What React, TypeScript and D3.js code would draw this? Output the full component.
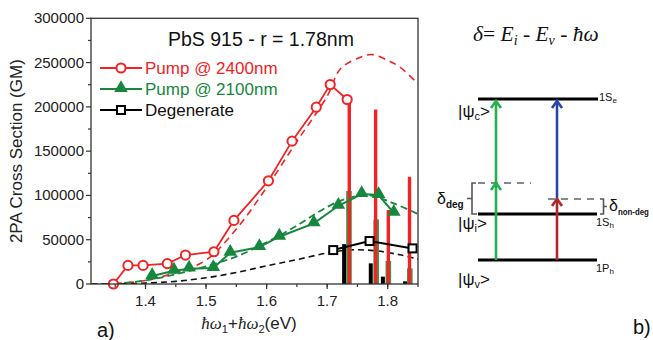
import React from "react";
import * as d3 from "d3";

// measured 2PA spectra (eV, GM)
const pump2400 = [
  { x: 1.347, y: 0 },
  { x: 1.371, y: 21000 },
  { x: 1.396, y: 21000 },
  { x: 1.436, y: 23000 },
  { x: 1.466, y: 32700 },
  { x: 1.513, y: 36400 },
  { x: 1.546, y: 71800 },
  { x: 1.603, y: 116500 },
  { x: 1.642, y: 161300 },
  { x: 1.682, y: 199600 },
  { x: 1.705, y: 225200 },
  { x: 1.733, y: 208300 },
];

const pump2100 = [
  { x: 1.411, y: 9000 },
  { x: 1.447, y: 15000 },
  { x: 1.472, y: 17300 },
  { x: 1.512, y: 18000 },
  { x: 1.54, y: 35300 },
  { x: 1.588, y: 41700 },
  { x: 1.621, y: 53400 },
  { x: 1.678, y: 68400 },
  { x: 1.7185, y: 88300 },
  { x: 1.757, y: 101500 },
  { x: 1.785, y: 100400 },
  { x: 1.81, y: 80400 },
];

const degenerate = [
  { x: 1.71, y: 38300 },
  { x: 1.77, y: 48500 },
  { x: 1.841, y: 40200 },
];

// model curves (dashed)
const fit2400 = [
  { x: 1.31, y: 0 },
  { x: 1.35, y: 500 },
  { x: 1.4, y: 4000 },
  { x: 1.45, y: 13000 },
  { x: 1.5, y: 27000 },
  { x: 1.55, y: 62000 },
  { x: 1.6, y: 109000 },
  { x: 1.65, y: 161000 },
  { x: 1.7, y: 212000 },
  { x: 1.722, y: 243000 },
  { x: 1.755, y: 256000 },
  { x: 1.775, y: 259000 },
  { x: 1.8, y: 252500 },
  { x: 1.82, y: 245000 },
  { x: 1.85, y: 226000 },
];

const fit2100 = [
  { x: 1.31, y: 0 },
  { x: 1.35, y: 500 },
  { x: 1.4, y: 4000 },
  { x: 1.45, y: 11000 },
  { x: 1.5, y: 20000 },
  { x: 1.55, y: 31000 },
  { x: 1.6, y: 47000 },
  { x: 1.65, y: 66000 },
  { x: 1.7, y: 87000 },
  { x: 1.73, y: 96000 },
  { x: 1.766, y: 100500 },
  { x: 1.81, y: 91000 },
  { x: 1.85, y: 79000 },
];

const fitDegenerate = [
  { x: 1.31, y: 0 },
  { x: 1.35, y: 0 },
  { x: 1.4, y: 1000 },
  { x: 1.45, y: 3000 },
  { x: 1.5, y: 7000 },
  { x: 1.55, y: 13000 },
  { x: 1.6, y: 20500 },
  { x: 1.65, y: 27500 },
  { x: 1.7, y: 35000 },
  { x: 1.74, y: 38500 },
  { x: 1.78, y: 37500 },
  { x: 1.82, y: 33000 },
  { x: 1.85, y: 28000 },
];

// transition strengths (sticks)
const sticksDeg = [
  { x: 1.728, y: 45000 },
  { x: 1.772, y: 23300 },
  { x: 1.792, y: 8300 },
  { x: 1.8286, y: 3000 },
];
const sticks2100 = [
  { x: 1.736, y: 105000 },
  { x: 1.781, y: 73000 },
  { x: 1.801, y: 26000 },
  { x: 1.8365, y: 17700 },
];
const sticks2400 = [
  { x: 1.7365, y: 208000 },
  { x: 1.78, y: 197000 },
  { x: 1.801, y: 83500 },
  { x: 1.836, y: 121000 },
];

const yTicks = [0, 50000, 100000, 150000, 200000, 250000, 300000];
const xTicks = [1.4, 1.5, 1.6, 1.7, 1.8];

// energy diagram levels (arbitrary units, 1P_h = 0, 1S_h = 1)
const levelE = { P: 0, Sh: 1, nonDeg: 1.326, deg: 1.674, Se: 3.5 };

const RED = "#f02424";
const GREEN = "#17873d";
const SANS = "Liberation Sans, Arial, sans-serif";
const SERIF = "Liberation Serif, Times New Roman, serif";

function Arrow({ x, y1, y2, color }) {
  return (
    <g stroke={color} strokeWidth={2.6} fill="none">
      <line x1={x} x2={x} y1={y1} y2={y2 + 1} />
      <path d={`M${x - 5},${y2 + 7} L${x},${y2} L${x + 5},${y2 + 7}`} />
    </g>
  );
}

export default function App() {
  const x = d3.scaleLinear().domain([1.31, 1.85]).range([91, 418]);
  const y = d3.scaleLinear().domain([0, 300000]).range([284, 18.3]);
  const [x0, x1] = x.range();
  const [y0, y1] = y.range();

  const line = d3
    .line()
    .x((d) => x(d.x))
    .y((d) => y(d.y));
  const smooth = d3
    .line()
    .x((d) => x(d.x))
    .y((d) => y(d.y))
    .curve(d3.curveCatmullRom);

  const tri = d3.symbol(d3.symbolTriangle, 80)();

  const yMinor = d3.range(0, 300001, 25000);
  const xMinor = d3.range(1.35, 1.851, 0.05);

  const ey = d3.scaleLinear().domain([0, 1]).range([260, 214]);
  const lx0 = 478;
  const lx1 = 598;
  const gx = 496;
  const bx = 557;

  return (
    <svg
      width={653}
      height={340}
      style={{ position: "absolute", left: 0, top: 0, background: "#fff" }}
      fontFamily={SANS}
    >
      {/* ---------- panel a ---------- */}
      <defs>
        <clipPath id="plot">
          <rect x={x0} y={y1} width={x1 - x0} height={y0 - y1} />
        </clipPath>
      </defs>

      <g clipPath="url(#plot)">
        <path d={smooth(fit2400)} fill="none" stroke={RED} strokeWidth={1.6} strokeDasharray="7,5" />
        <path d={smooth(fit2100)} fill="none" stroke={GREEN} strokeWidth={1.8} strokeDasharray="7,4" />
        <path d={smooth(fitDegenerate)} fill="none" stroke="#111" strokeWidth={1.6} strokeDasharray="6,4" />

        {sticksDeg.map((d, i) => (
          <rect key={"k" + i} x={x(d.x) - 2} width={4} y={y(d.y)} height={y0 - y(d.y)} fill="#000" />
        ))}
        {sticks2100.map((d, i) => (
          <rect key={"g" + i} x={x(d.x) - 2.8} width={5.6} y={y(d.y)} height={y0 - y(d.y)} fill="#3a9a4e" />
        ))}
        {sticks2400.map((d, i) => (
          <rect key={"r" + i} x={x(d.x) - 1.7} width={3.4} y={y(d.y)} height={y0 - y(d.y)} fill={RED} />
        ))}

        <path d={line(degenerate)} fill="none" stroke="#000" strokeWidth={2} />
        <path d={line(pump2100)} fill="none" stroke={GREEN} strokeWidth={2} />
        <path d={line(pump2400)} fill="none" stroke={RED} strokeWidth={1.8} />
      </g>

      {degenerate.map((d, i) => (
        <rect key={i} x={x(d.x) - 4} y={y(d.y) - 4} width={8} height={8} fill="#fff" stroke="#000" strokeWidth={2} />
      ))}
      {pump2100.map((d, i) => (
        <path key={i} d={tri} transform={`translate(${x(d.x)},${y(d.y) - 1})`} fill={GREEN} />
      ))}
      {pump2400.map((d, i) => (
        <circle key={i} cx={x(d.x)} cy={y(d.y)} r={4.6} fill="#fff" stroke={RED} strokeWidth={2} />
      ))}

      {/* frame */}
      <rect x={x0} y={y1} width={x1 - x0} height={y0 - y1} fill="none" stroke="#333" strokeWidth={1.3} />

      {/* y axis */}
      {yMinor.map((v) => (
        <line key={v} x1={x0} x2={x0 - (v % 50000 === 0 ? 5 : 3)} y1={y(v)} y2={y(v)} stroke="#333" strokeWidth={1.2} />
      ))}
      {yTicks.map((v) => (
        <text key={v} x={x0 - 7} y={y(v) + 5} textAnchor="end" fontSize={15} fill="#222">
          {v}
        </text>
      ))}
      <text transform={`translate(22,${(y0 + y1) / 2}) rotate(-90)`} textAnchor="middle" fontSize={17} fill="#222">
        2PA Cross Section (GM)
      </text>

      {/* x axis */}
      {xMinor.map((v) => (
        <line key={v} x1={x(v)} x2={x(v)} y1={y0} y2={y0 + 3} stroke="#333" strokeWidth={1.2} />
      ))}
      {xTicks.map((v) => (
        <g key={v}>
          <line x1={x(v)} x2={x(v)} y1={y0} y2={y0 + 5} stroke="#333" strokeWidth={1.2} />
          <text x={x(v)} y={y0 + 22} textAnchor="middle" fontSize={15} fill="#222">
            {v.toFixed(1)}
          </text>
        </g>
      ))}
      <text x={249} y={329} textAnchor="middle" fontSize={17} fill="#222">
        <tspan fontFamily={SERIF} fontStyle="italic">ħω</tspan>
        <tspan fontSize={11} dy={4}>1</tspan>
        <tspan dy={-4}>+</tspan>
        <tspan fontFamily={SERIF} fontStyle="italic">ħω</tspan>
        <tspan fontSize={11} dy={4}>2</tspan>
        <tspan dy={-4}>(eV)</tspan>
      </text>

      <text x={168} y={46} fontSize={19.5} fill="#111">PbS 915 - r = 1.78nm</text>

      {/* legend */}
      <g>
        <line x1={100} x2={142} y1={68} y2={68} stroke={RED} strokeWidth={1.8} />
        <circle cx={121} cy={68} r={4.6} fill="#fff" stroke={RED} strokeWidth={2} />
        <text x={145} y={74} fontSize={17} fill={RED}>Pump @ 2400nm</text>

        <line x1={100} x2={142} y1={89} y2={89} stroke={GREEN} strokeWidth={2} />
        <path d={tri} transform="translate(121,88)" fill={GREEN} />
        <text x={145} y={95} fontSize={17} fill={GREEN}>Pump @ 2100nm</text>

        <line x1={100} x2={142} y1={110} y2={110} stroke="#000" strokeWidth={2} />
        <rect x={117} y={106} width={8} height={8} fill="#fff" stroke="#000" strokeWidth={2} />
        <text x={145} y={116} fontSize={17} fill="#111">Degenerate</text>
      </g>

      <text x={97} y={337} fontSize={20} fill="#111">a)</text>

      {/* ---------- panel b ---------- */}
      <text x={473} y={41} fontSize={21.5} fontFamily={SERIF} fontStyle="italic" fill="#111">
        δ<tspan fontStyle="normal">= </tspan>E<tspan fontSize={14} dy={4}>i</tspan>
        <tspan dy={-4} fontStyle="normal"> - </tspan>E<tspan fontSize={14} dy={4}>v</tspan>
        <tspan dy={-4} fontStyle="normal"> - </tspan>ħω
      </text>

      {/* virtual levels */}
      <line x1={lx0} x2={531} y1={ey(levelE.deg)} y2={ey(levelE.deg)} stroke="#888" strokeWidth={2} strokeDasharray="7,6" />
      <line x1={548} x2={600} y1={ey(levelE.nonDeg)} y2={ey(levelE.nonDeg)} stroke="#888" strokeWidth={2} strokeDasharray="7,6" />

      {/* real levels */}
      <line x1={lx0} x2={lx1} y1={ey(levelE.Se)} y2={ey(levelE.Se)} stroke="#000" strokeWidth={3} />
      <line x1={lx0} x2={lx1 - 1} y1={ey(levelE.Sh)} y2={ey(levelE.Sh)} stroke="#000" strokeWidth={3} />
      <line x1={lx0} x2={lx1 - 1} y1={ey(levelE.P)} y2={ey(levelE.P)} stroke="#000" strokeWidth={3} />

      {/* transitions */}
      <Arrow x={gx} y1={ey(levelE.P)} y2={ey(levelE.deg)} color="#22b14c" />
      <Arrow x={gx} y1={ey(levelE.deg)} y2={ey(levelE.Se) + 2} color="#22b14c" />
      <Arrow x={bx} y1={ey(levelE.nonDeg)} y2={ey(levelE.Se) + 2} color="#2947a8" />
      <Arrow x={bx} y1={ey(levelE.P)} y2={ey(levelE.nonDeg)} color="#b0262a" />

      {/* brackets */}
      <path
        d={`M476,${ey(levelE.deg)} H472 V${ey(levelE.Sh)} H477 M472,${(ey(levelE.deg) + ey(levelE.Sh)) / 2} H467`}
        fill="none"
        stroke="#555"
        strokeWidth={1.6}
      />
      <path
        d={`M600,${ey(levelE.nonDeg)} H603.5 V${ey(levelE.Sh)} H600 M603.5,${(ey(levelE.nonDeg) + ey(levelE.Sh)) / 2} H607`}
        fill="none"
        stroke="#555"
        strokeWidth={1.6}
      />
      <text x={437} y={204} fontSize={16} fill="#111">
        δ<tspan fontSize={10} dy={4} fontWeight="bold">deg</tspan>
      </text>
      <text x={609} y={211} fontSize={16} fill="#111">
        δ<tspan fontSize={9} dy={4} fontWeight="bold" textLength={31} lengthAdjust="spacingAndGlyphs">
          non-deg
        </tspan>
      </text>

      {/* level labels */}
      <text x={599} y={101} fontSize={11} fill="#111">
        1S<tspan fontSize={8} dy={2}>e</tspan>
      </text>
      <text x={596} y={226} fontSize={11} fill="#111">
        1S<tspan fontSize={8} dy={2}>h</tspan>
      </text>
      <text x={596} y={272} fontSize={11} fill="#111">
        1P<tspan fontSize={8} dy={2}>h</tspan>
      </text>

      <text x={458} y={117} fontSize={17} fill="#111">
        |ψ<tspan fontSize={11} dy={3}>c</tspan>
        <tspan dy={-3}>&gt;</tspan>
      </text>
      <text x={458} y={229} fontSize={17} fill="#111">
        |ψ<tspan fontSize={11} dy={3}>i</tspan>
        <tspan dy={-3}>&gt;</tspan>
      </text>
      <text x={458} y={285} fontSize={17} fill="#111">
        |ψ<tspan fontSize={11} dy={3}>v</tspan>
        <tspan dy={-3}>&gt;</tspan>
      </text>

      <text x={633} y={334} fontSize={20} fill="#111">b)</text>
    </svg>
  );
}
